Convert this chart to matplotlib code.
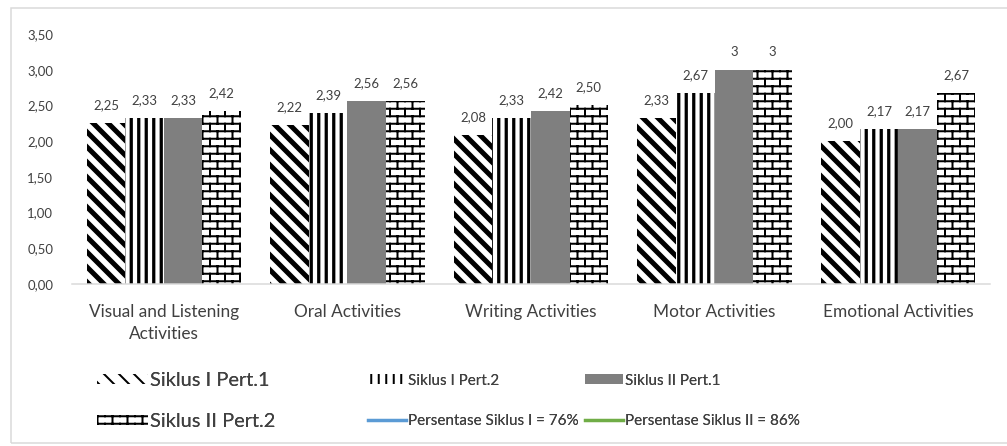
import warnings
import numpy as np
import matplotlib
matplotlib.use("Agg")
import matplotlib.pyplot as plt
from matplotlib import hatch as mhatch
from matplotlib.path import Path
from matplotlib.patches import Patch, Rectangle
from matplotlib.lines import Line2D

warnings.filterwarnings("ignore")

categories = ["Visual and Listening\nActivities", "Oral Activities",
              "Writing Activities", "Motor Activities", "Emotional Activities"]
series_names = ["Siklus I Pert.1", "Siklus I Pert.2",
                "Siklus II Pert.1", "Siklus II Pert.2"]
siklus1_pert1 = [2.25, 2.22, 2.08, 2.33, 2.00]
siklus1_pert2 = [2.33, 2.39, 2.33, 2.67, 2.17]
siklus2_pert1 = [2.33, 2.56, 2.42, 3, 2.17]
siklus2_pert2 = [2.42, 2.56, 2.50, 3, 2.67]
line_names = ["Persentase Siklus I = 76%", "Persentase Siklus II = 86%"]
yticks = [0.0, 0.5, 1.0, 1.5, 2.0, 2.5, 3.0, 3.5]


class BrickHatch(mhatch.HatchPatternBase):
    """Brick-wall hatch, selected with the letter 'b'."""
    rows, cols = 12, 6

    def __init__(self, hatch, density):
        segs = []
        if hatch is not None and 'b' in hatch:
            n, m = self.rows, self.cols
            for i in range(n):
                a = (i + 0.5) / n
                b = (i + 1.5) / n
                segs.append(((0.0, a), (1.0, a)))
                shift = 0.0 if i % 2 == 0 else 0.5
                for j in range(m):
                    x = (j + shift) / m
                    if b > 1.0:
                        segs.append(((x, a), (x, 1.0)))
                        segs.append(((x, 0.0), (x, b - 1.0)))
                    else:
                        segs.append(((x, a), (x, b)))
        self.segs = segs
        self.num_vertices = 2 * len(segs)

    def set_vertices_and_codes(self, vertices, codes):
        pts = np.array([p for s in self.segs for p in s], dtype=float)
        vertices[:] = pts
        codes[0::2] = Path.MOVETO
        codes[1::2] = Path.LINETO


mhatch._hatch_types.append(BrickHatch)

plt.rcParams['font.family'] = ['Lato', 'DejaVu Sans']
TEXT = '#404040'

DPI = 90
fig = plt.figure(figsize=(1008 / DPI, 446 / DPI), dpi=DPI)
ax = fig.add_axes([72 / 1008, 1 - 284 / 446, (990 - 72) / 1008, 250 / 446])

x = np.arange(len(categories))
w = 0.21
styles = [
    dict(hatch='\\\\', fc='white', hlw=4.0),
    dict(hatch='||', fc='white', hlw=2.6),
    dict(hatch=None, fc='#7f7f7f', hlw=1.0),
    dict(hatch='b', fc='white', hlw=1.6),
]
all_series = [siklus1_pert1, siklus1_pert2, siklus2_pert1, siklus2_pert2]


def fmt(v):
    if isinstance(v, int):
        return str(v)
    return f"{v:.2f}".replace('.', ',')


handles = []
for k, (vals, st) in enumerate(zip(all_series, styles)):
    plt.rcParams['hatch.linewidth'] = st['hlw']
    bars = ax.bar(x + (k - 1.5) * w, vals, w, color=st['fc'],
                  hatch=st['hatch'], edgecolor='black', linewidth=0)
    for b in bars:
        if hasattr(b, 'set_hatch_linewidth'):
            b.set_hatch_linewidth(st['hlw'])
    ax.bar_label(bars, labels=[fmt(v) for v in vals], padding=9.5,
                 fontsize=10.5, color=TEXT)
    h = Patch(facecolor=st['fc'], hatch=st['hatch'], edgecolor='black',
              linewidth=0)
    if hasattr(h, 'set_hatch_linewidth'):
        h.set_hatch_linewidth(st['hlw'])
    handles.append(h)

ax.set_xlim(-0.5, len(categories) - 0.5)
ax.set_ylim(0, 3.5)
ax.set_yticks(yticks)
ax.set_yticklabels([f"{t:.2f}".replace('.', ',') for t in yticks])
ax.set_xticks(x)
ax.set_xticklabels(categories, fontsize=13.8, color=TEXT, linespacing=1.43)
ax.tick_params(axis='y', length=0, pad=15, labelsize=10.5, labelcolor=TEXT)
ax.tick_params(axis='x', length=0, pad=16)
for s in ['top', 'right', 'left']:
    ax.spines[s].set_visible(False)
ax.spines['bottom'].set_color('#d9d9d9')
ax.spines['bottom'].set_linewidth(1.2)

line_handles = [Line2D([], [], color='#5b9bd5', lw=2.6),
                Line2D([], [], color='#70ad47', lw=2.6)]

# (handles, labels, left edge px, handle length, handle height,
#  font size, row spacing)
cols = [
    ([handles[0], handles[3]], [series_names[0], series_names[3]],
     97, 2.55, 0.45, 16, 1.2),
    ([handles[1], line_handles[0]], [series_names[1], line_names[0]],
     368, 2.5, 0.65, 12.2, 1.75),
    ([handles[2], line_handles[1]], [series_names[2], line_names[1]],
     585, 2.5, 0.65, 12.2, 1.75),
]
for hs, labs, xpix, hl, hh, fs, sp in cols:
    leg = fig.legend(hs, labs, loc='center left',
                     bbox_to_anchor=(xpix / 1008, 1 - 401 / 446),
                     bbox_transform=fig.transFigure, frameon=False,
                     borderpad=0, borderaxespad=0, handlelength=hl,
                     handleheight=hh, handletextpad=0.1,
                     labelspacing=sp, fontsize=fs, labelcolor=TEXT)
    fig.add_artist(leg)

fig.add_artist(Rectangle((11 / 1008, 1 - 443 / 446), 1.2, (443 - 8) / 446,
                         transform=fig.transFigure, fill=False,
                         edgecolor='#d9d9d9', linewidth=1.2))

fig.savefig("out.png", dpi=DPI)
